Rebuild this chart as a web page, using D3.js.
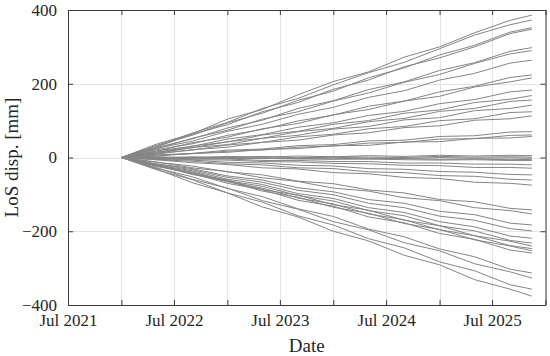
<!DOCTYPE html>
<html>
<head>
<meta charset="utf-8">
<script src="https://cdn.jsdelivr.net/npm/d3@7"></script>
<style>
	body { margin: 0; background: #fff; }
	svg text { font-family: "Liberation Serif", "DejaVu Serif", serif; fill: #262626; }
</style>
</head>
<body>
<div id="chart"></div>
<script>
/* LoS displacement time series, one line per point */

var dates = ["2022-01-01", "2022-05-01", "2022-09-01", "2023-01-01", "2023-05-01", "2023-09-01",
	"2024-01-01", "2024-05-01", "2024-09-01", "2025-01-01", "2025-05-01", "2025-09-01", "2025-11-15"];

// lines going up (mm), first value at the start date is 0
var upSeries = [
	[0, 36, 64, 104, 130, 170, 206, 232, 272, 300, 338, 372, 386],
	[0, 30, 66, 95, 133, 160, 197, 230, 258, 295, 332, 360, 373],
	[0, 33, 60, 94, 120, 155, 180, 216, 243, 278, 304, 340, 352],
	[0, 28, 63, 89, 124, 149, 185, 210, 246, 270, 300, 336, 348],
	[0, 27, 50, 80, 101, 133, 154, 184, 205, 236, 257, 288, 298],
	[0, 23, 52, 74, 104, 124, 153, 175, 204, 225, 255, 281, 290],
	[0, 25, 44, 71, 90, 117, 136, 163, 181, 210, 228, 256, 264],
	[0, 21, 37, 60, 76, 99, 115, 139, 153, 178, 193, 217, 224],
	[0, 17, 40, 55, 78, 92, 116, 130, 153, 166, 191, 205, 216],
	[0, 18, 30, 50, 62, 82, 94, 114, 125, 146, 157, 178, 183],
	[0, 13, 31, 42, 61, 71, 90, 100, 120, 129, 149, 158, 168],
	[0, 15, 26, 43, 52, 70, 79, 97, 106, 125, 133, 152, 156],
	[0, 11, 27, 35, 52, 60, 77, 84, 102, 108, 127, 133, 142],
	[0, 12, 20, 34, 41, 56, 63, 78, 84, 100, 105, 122, 124],
	[0, 9, 21, 28, 41, 47, 61, 67, 81, 86, 101, 105, 113],
	[0, 7, 11, 20, 23, 32, 35, 45, 47, 57, 59, 69, 70],
	[0, 6, 10, 17, 20, 28, 31, 39, 41, 50, 51, 60, 61],
	[0, 4, 11, 14, 22, 24, 32, 33, 42, 43, 52, 53, 57]
];

// lines staying near zero
var flatSeries = [
	[0, 2, -1, 3, 1, 4, 2, 5, 3, 6, 4, 6, 5],
	[0, -1, 2, 0, 3, -1, 2, 1, 0, 3, 1, 2, 1],
	[0, 1, -2, 0, -3, -1, 1, -2, -3, 0, -2, -1, -2],
	[0, -1, 0, -2, -1, -3, -2, -4, -3, -5, -4, -6, -5],
	[0, -2, -1, -3, -2, -4, -5, -4, -6, -7, -6, -8, -8],
	[0, -1, -4, -4, -8, -8, -11, -11, -15, -15, -18, -18, -20],
	[0, -2, -6, -7, -11, -12, -16, -17, -21, -22, -27, -27, -29]
];

// lines going down
var downSeries = [
	[0, -5, -7, -13, -15, -21, -23, -30, -32, -38, -40, -46, -47],
	[0, -6, -10, -17, -20, -28, -30, -39, -41, -49, -51, -59, -61],
	[0, -6, -14, -19, -28, -31, -41, -44, -54, -57, -67, -70, -75],
	[0, -13, -23, -39, -47, -64, -71, -88, -96, -114, -120, -138, -142],
	[0, -12, -28, -38, -55, -65, -83, -91, -109, -117, -136, -144, -153],
	[0, -17, -30, -50, -61, -82, -93, -114, -124, -146, -155, -178, -183],
	[0, -18, -33, -54, -67, -89, -101, -124, -136, -159, -170, -193, -199],
	[0, -20, -36, -59, -73, -98, -111, -136, -149, -174, -188, -213, -219],
	[0, -21, -39, -63, -78, -103, -118, -144, -158, -185, -199, -225, -232],
	[0, -19, -44, -61, -87, -102, -128, -143, -170, -185, -212, -227, -240],
	[0, -23, -41, -66, -83, -110, -126, -153, -169, -196, -212, -239, -247],
	[0, -20, -46, -64, -91, -108, -135, -151, -179, -195, -223, -240, -253],
	[0, -24, -43, -70, -87, -116, -132, -161, -177, -206, -222, -251, -259],
	[0, -29, -52, -84, -106, -139, -160, -194, -215, -248, -269, -303, -313],
	[0, -27, -59, -83, -117, -140, -174, -196, -231, -253, -288, -310, -327],
	[0, -33, -60, -96, -121, -158, -183, -220, -245, -283, -307, -345, -357],
	[0, -31, -68, -96, -134, -161, -200, -226, -265, -291, -331, -357, -376]
];

var xDomain = ["2021-07-01", "2026-01-01"];
var yDomain = [-400, 400];
var yTicks = [-400, -200, 0, 200, 400];

var width = 550,
	height = 356,
	margin = { top: 10, right: 4.5, bottom: 51, left: 68 };

var serif = "'Liberation Serif', 'DejaVu Serif', serif";
var parse = d3.utcParse("%Y-%m-%d");
var allSeries = upSeries.concat(flatSeries, downSeries);

var svg = d3.select("#chart").append("svg")
	.attr("width", width)
	.attr("height", height)
	.attr("font-family", serif);

var x = d3.scaleUtc()
	.domain(xDomain.map(parse))
	.range([margin.left, width - margin.right]);

var y = d3.scaleLinear()
	.domain(yDomain)
	.range([height - margin.bottom, margin.top]);

var xTicks = d3.utcMonth.every(6).range(x.domain()[0], d3.utcDay.offset(x.domain()[1], 1));
var fmt = d3.utcFormat("%b %Y");
var xLabel = function(d) { return d.getUTCMonth() == 6 ? fmt(d) : ""; };

/* ------- GRID ------- */
var grid = svg.append("g").attr("class", "grid")
	.attr("stroke", "#e3e3e3")
	.attr("stroke-width", 1);
grid.selectAll("line.vx")
	.data(xTicks)
	.enter().append("line")
	.attr("class", "vx")
	.attr("x1", function(d) { return Math.round(x(d)) + 0.5; })
	.attr("x2", function(d) { return Math.round(x(d)) + 0.5; })
	.attr("y1", y.range()[1])
	.attr("y2", y.range()[0]);
grid.selectAll("line.hy")
	.data(yTicks)
	.enter().append("line")
	.attr("class", "hy")
	.attr("x1", x.range()[0])
	.attr("x2", x.range()[1])
	.attr("y1", function(d) { return Math.round(y(d)) + 0.5; })
	.attr("y2", function(d) { return Math.round(y(d)) + 0.5; });

/* ------- LINES ------- */
var line = d3.line()
	.x(function(d, i) { return x(parse(dates[i])); })
	.y(function(d) { return y(d); });

svg.append("g").attr("class", "lines")
	.selectAll("path")
	.data(allSeries)
	.enter().append("path")
	.attr("fill", "none")
	.attr("stroke", "#858585")
	.attr("stroke-width", 1)
	.attr("d", line);

/* ------- AXES (box with inward ticks) ------- */
var axisColor = "#3a3a3a";
var tickLen = 5;

var xBottom = svg.append("g")
	.attr("transform", "translate(0," + y.range()[0] + ")")
	.call(d3.axisBottom(x).tickValues(xTicks).tickFormat(xLabel).tickSizeInner(-tickLen).tickSizeOuter(0).tickPadding(9));
var xTop = svg.append("g")
	.attr("transform", "translate(0," + y.range()[1] + ")")
	.call(d3.axisTop(x).tickValues(xTicks).tickFormat("").tickSizeInner(-tickLen).tickSizeOuter(0));
var yLeft = svg.append("g")
	.attr("transform", "translate(" + x.range()[0] + ",0)")
	.call(d3.axisLeft(y).tickValues(yTicks).tickFormat(d3.format("d")).tickSizeInner(-tickLen).tickSizeOuter(0).tickPadding(11));
var yRight = svg.append("g")
	.attr("transform", "translate(" + x.range()[1] + ",0)")
	.call(d3.axisRight(y).tickValues(yTicks).tickFormat("").tickSizeInner(-tickLen).tickSizeOuter(0));

[xBottom, xTop, yLeft, yRight].forEach(function(g) {
	g.attr("font-family", serif).attr("font-size", 17);
	g.select(".domain").attr("stroke", axisColor);
	g.selectAll(".tick line").attr("stroke", axisColor);
	g.selectAll(".tick text").attr("fill", "#262626");
});

/* ------- LABELS ------- */
svg.append("text")
	.attr("x", (x.range()[0] + x.range()[1]) / 2)
	.attr("y", 352)
	.attr("text-anchor", "middle")
	.attr("font-size", 19)
	.text("Date");

svg.append("text")
	.attr("transform", "translate(18," + ((y.range()[0] + y.range()[1]) / 2) + ") rotate(-90)")
	.attr("text-anchor", "middle")
	.attr("font-size", 19)
	.text("LoS disp. [mm]");
</script>
</body>
</html>
